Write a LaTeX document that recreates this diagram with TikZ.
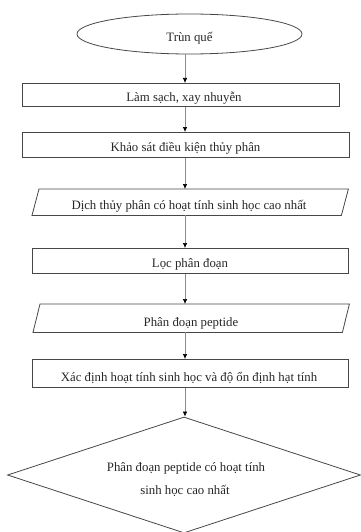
\documentclass[tikz,border=0pt]{standalone}
\usepackage{fontspec}
\setmainfont{Liberation Serif}
\usetikzlibrary{shapes.geometric,arrows.meta,calc}
\begin{document}
\begin{tikzpicture}[x=1pt,y=-1pt,
  shapeline/.style={draw=black!72, line width=0.8pt},
  boxnode/.style={rectangle, inner sep=0pt, anchor=north west},
  lbl/.style={anchor=base, inner sep=0pt, text=black!85, font=\fontsize{12.8}{15}\selectfont},
  arr/.style={draw=black!45, line width=0.7pt, -{Latex[length=5pt,width=4.5pt,color=black]}}
]
\useasboundingbox (0,0) rectangle (360,532);
\coordinate (ax) at (185,0);

% Ellipse
\node[ellipse, shapeline, minimum width=225pt, minimum height=40pt, inner sep=0pt] (ell) at (189.5,34) {};
\node[lbl] (tell) at (189.5,42) {Trùn quế};

% Box 1
\node[boxnode, shapeline, minimum width=317pt, minimum height=23pt] (b1) at (22,83) {};
\node[lbl] (tb1) at (184,102) {Làm sạch, xay nhuyễn};

% Box 2
\node[boxnode, shapeline, minimum width=327pt, minimum height=25pt] (b2) at (22,132) {};
\node[lbl] (tb2) at (185.5,151.5) {Khảo sát điều kiện thủy phân};

% Parallelogram 1
\node[boxnode, minimum width=316pt, minimum height=26pt] (p1) at (32,189) {};
\draw[shapeline] ([xshift=7pt]p1.north west) -- (p1.north east) -- ([xshift=-7pt]p1.south east) -- (p1.south west) -- cycle;
\node[lbl] (tp1) at (189,209.5) {Dịch thủy phân có hoạt tính sinh học cao nhất};

% Box 3
\node[boxnode, shapeline, minimum width=316pt, minimum height=25pt] (b3) at (32,248) {};
\node[lbl] (tb3) at (190,267) {Lọc phân đoạn};

% Parallelogram 2
\node[boxnode, minimum width=316pt, minimum height=28pt] (p2) at (33,304) {};
\draw[shapeline] ([xshift=7pt]p2.north west) -- (p2.north east) -- ([xshift=-7pt]p2.south east) -- (p2.south west) -- cycle;
\node[lbl] (tp2) at (191,326) {Phân đoạn peptide};

% Box 4
\node[boxnode, shapeline, minimum width=316pt, minimum height=28pt] (b4) at (32,359) {};
\node[lbl] (tb4) at (189,381) {Xác định hoạt tính sinh học và độ ổn định hạt tính};

% Diamond
\node[diamond, shapeline, minimum width=353pt, minimum height=116pt, inner sep=0pt] (dm) at (184,475) {};
\node[lbl] (td1) at (186,471) {Phân đoạn peptide có hoạt tính};
\node[lbl] (td2) at (185,494) {sinh học cao nhất};

% Arrows
\draw[arr] (ell.south -| ax) -- (b1.north -| ax);
\draw[arr] (b1.south -| ax) -- (b2.north -| ax);
\draw[arr] (b2.south -| ax) -- (p1.north -| ax);
\draw[arr] (p1.south -| ax) -- (b3.north -| ax);
\draw[arr] (b3.south -| ax) -- (p2.north -| ax);
\draw[arr] (p2.south -| ax) -- (b4.north -| ax);
\draw[arr] (b4.south -| ax) -- (dm.north -| ax);
\end{tikzpicture}
\end{document}
